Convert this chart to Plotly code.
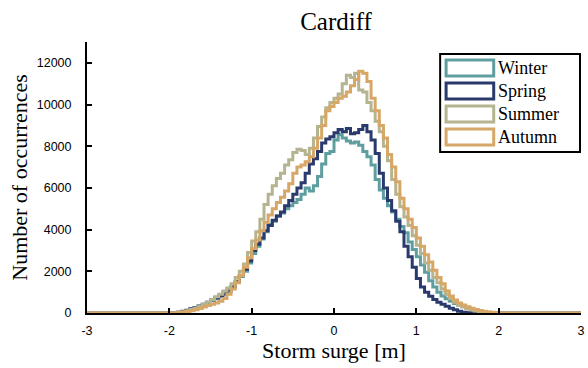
import numpy as np
import plotly.graph_objects as go

# ---------------- data ----------------
BIN_START = -2.0
BIN_WIDTH = 0.05
X_LIMITS = [-3, 3]

winter = [0, 10, 30, 70, 120, 180, 250, 320, 400, 480, 600, 700, 850, 980, 1150, 1300,
          1500, 1750, 2000, 2400, 2850, 3200, 3550, 3900, 4250, 4400, 4650, 4800, 5000,
          5150, 5300, 5450, 5700, 6000, 5850, 6100, 6550, 7150, 7650, 7750, 8300, 8550,
          8400, 8250, 8150, 8200, 8050, 7750, 7500, 7100, 6400, 5900, 5500, 5150, 4850,
          4500, 4150, 3850, 3400, 3050, 2700, 2300, 1950, 1550, 1250, 1000, 820, 680, 560,
          450, 380, 320, 260, 210, 160, 110, 70, 40, 20, 10, 5, 0]

spring = [0, 10, 40, 80, 130, 200, 260, 340, 420, 520, 620, 720, 800, 900, 1050, 1250,
          1500, 1800, 2100, 2500, 3000, 3300, 3600, 3950, 4200, 4450, 4650, 4850, 5150,
          5400, 5700, 6000, 6250, 6700, 7150, 7400, 7750, 8150, 8350, 8450, 8650, 8800,
          8700, 8850, 8600, 8650, 8800, 9000, 8700, 8300, 7650, 6700, 6000, 5400, 4900,
          4400, 3900, 3200, 2700, 2200, 1650, 1250, 1000, 800, 650, 520, 420, 320, 230,
          150, 80, 40, 20, 10, 5, 0, 0, 0, 0, 0, 0, 0]

summer = [0, 10, 30, 60, 110, 170, 240, 320, 420, 520, 650, 780, 900, 1050, 1200, 1400,
          1700, 2000, 2350, 2900, 3450, 3900, 4500, 5200, 5700, 6100, 6450, 6700, 7100,
          7350, 7700, 7850, 7800, 7600, 7900, 8400, 8950, 9400, 9850, 10100, 10300, 10500,
          11000, 11400, 11300, 11500, 10700, 10600, 10100, 9700, 9200, 8700, 8000, 7300,
          6400, 5700, 5100, 4600, 4200, 3700, 3250, 2850, 2400, 2050, 1700, 1450, 1150,
          900, 700, 520, 380, 290, 200, 140, 90, 60, 35, 20, 10, 5, 0, 0]

autumn = [0, 5, 20, 40, 70, 110, 160, 220, 290, 360, 420, 480, 560, 700, 900, 1150,
          1450, 1800, 2200, 2650, 3100, 3500, 3950, 4350, 4700, 5000, 5300, 5550, 5850,
          6200, 6700, 7000, 7100, 7250, 7500, 7900, 8400, 9000, 9700, 9900, 10100, 10300,
          10400, 10600, 10900, 11200, 11600, 11500, 11100, 10300, 9700, 9000, 8400, 7600,
          7000, 6300, 5500, 5000, 4500, 4100, 3600, 3200, 2800, 2450, 2050, 1700, 1400,
          1050, 820, 620, 480, 380, 300, 230, 170, 120, 80, 50, 30, 15, 5, 0]

season_names = ["Winter", "Spring", "Summer", "Autumn"]
season_counts = [winter, spring, summer, autumn]
season_colors = ["#5f9e9f", "#2b3a6c", "#b5b490", "#d6a766"]

y_ticks = [0, 2000, 4000, 6000, 8000, 10000, 12000]
x_ticks = [-3, -2, -1, 0, 1, 2, 3]
Y_MAX = 13000

# ---------------- figure ----------------
W, H = 588, 368
ML, MR, MT, MB = 87, 3, 42, 55
PW, PH = W - ML - MR, H - MT - MB


def px(xp):
    return (xp - ML) / PW


def py(yp):
    return (H - MB - yp) / PH


fig = go.Figure()
for name, counts, color in zip(season_names, season_counts, season_colors):
    n = len(counts)
    edges = BIN_START + BIN_WIDTH * np.arange(n + 1)
    xs = [X_LIMITS[0]] + list(edges) + [X_LIMITS[1]]
    ys = [0] + list(counts) + [0, 0]
    fig.add_trace(go.Scatter(
        x=xs, y=ys, mode="lines", name=name,
        line=dict(color=color, width=3, shape="hv"),
        showlegend=False,
    ))

serif = "Liberation Serif, Times New Roman, serif"
sans = "Liberation Sans, Arial, sans-serif"

# manual legend (box with outlined patches, like the original)
LEG_L, LEG_R, LEG_T, LEG_B = 443, 584, 54, 152
shapes = [dict(type="rect", xref="paper", yref="paper",
               x0=px(LEG_L), x1=px(LEG_R), y0=py(LEG_B), y1=py(LEG_T),
               line=dict(color="black", width=2), fillcolor="white", layer="above")]
annotations = []
row_centers = [68, 91, 114, 137]
for name, color, cy in zip(season_names, season_colors, row_centers):
    shapes.append(dict(type="rect", xref="paper", yref="paper",
                       x0=px(449), x1=px(497), y0=py(cy + 8), y1=py(cy - 8),
                       line=dict(color=color, width=3), fillcolor="white", layer="above"))
    annotations.append(dict(xref="paper", yref="paper", x=px(499), y=py(cy),
                            text=name, showarrow=False, xanchor="left", yanchor="middle",
                            font=dict(family=serif, size=18, color="black")))

fig.update_layout(
    width=W, height=H,
    margin=dict(l=ML, r=MR, t=MT, b=MB),
    paper_bgcolor="white", plot_bgcolor="white",
    title=dict(text="Cardiff", xref="container", x=336 / W, xanchor="center",
               yref="container", y=1 - 21 / H, yanchor="middle",
               font=dict(family=serif, size=25, color="black")),
    xaxis=dict(range=X_LIMITS, tickvals=x_ticks, ticktext=[str(v) for v in x_ticks],
               showgrid=False, zeroline=False, showline=True, linecolor="black", linewidth=2,
               ticks="inside", ticklen=5, tickwidth=2, tickcolor="black",
               ticklabelstandoff=5, ticklabeloverflow="allow",
               tickfont=dict(family=sans, size=12.5, color="black"),
               title=dict(text="Storm surge [m]", standoff=5,
                          font=dict(family=serif, size=22, color="black"))),
    yaxis=dict(range=[0, Y_MAX], tickvals=y_ticks, ticktext=[str(v) for v in y_ticks],
               showgrid=False, zeroline=False, showline=True, linecolor="black", linewidth=2,
               ticks="inside", ticklen=5, tickwidth=2, tickcolor="black",
               ticklabelstandoff=11,
               tickfont=dict(family=sans, size=12.5, color="black"),
               title=dict(text="Number of occurrences", standoff=3,
                          font=dict(family=serif, size=22, color="black"))),
    shapes=shapes, annotations=annotations,
    showlegend=False,
)

fig.write_html("out.html")
